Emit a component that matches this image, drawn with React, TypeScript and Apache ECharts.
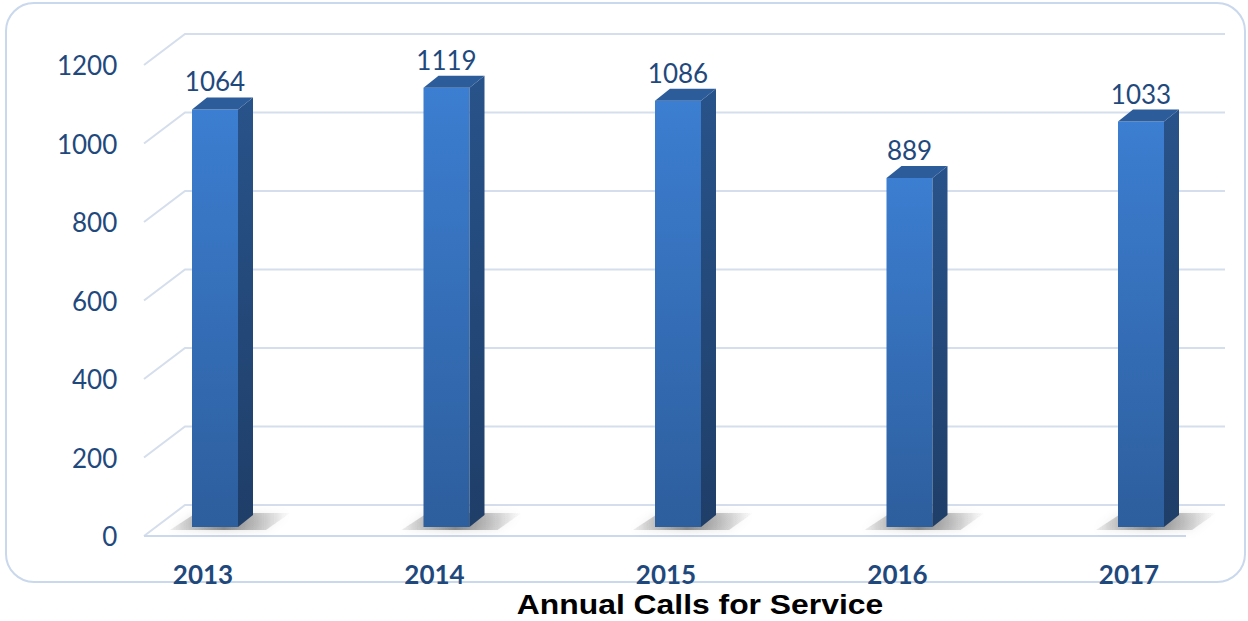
import React, { useEffect, useRef } from "react";
import * as echarts from "echarts";

const categories = ["2013", "2014", "2015", "2016", "2017"];
const calls = [1064, 1119, 1086, 889, 1033];
const yTicks = [0, 200, 400, 600, 800, 1000, 1200];
const chartTitle = "Annual Calls for Service";

const TEXT_BLUE = "#1F497D";
const GRID_COLOR = "#D5DEEC";

export default function App() {
  const ref = useRef<HTMLDivElement>(null);
  useEffect(() => {
    document.body.style.margin = "0";
    const chart = echarts.init(ref.current!, null, { renderer: "svg" });

    const barItem = (params: any, api: any) => {
      const k = api.value(0);
      const v = api.value(1);
      const base = api.coord([k, 0]);
      const top = api.coord([k, v]);
      const cx = base[0] + 12;
      const y0 = base[1] - 9;
      const y1 = top[1] - 9;
      const hw = 23;
      const dx = 15;
      const dy = 12;
      const xl = cx - hw;
      const xr = cx + hw;
      return {
        type: "group",
        children: [
          {
            type: "polygon",
            shape: {
              points: [
                [xl - 22, y0 + 3],
                [xr + 28, y0 + 3],
                [xr + 52, y0 - 14],
                [xl + 4, y0 - 14],
              ],
            },
            style: {
              fill: new echarts.graphic.LinearGradient(0, 0, 1, 0, [
                { offset: 0, color: "rgba(60,60,60,0.08)" },
                { offset: 0.45, color: "rgba(60,60,60,0.55)" },
                { offset: 1, color: "rgba(60,60,60,0.0)" },
              ]),
              shadowBlur: 10,
              shadowColor: "rgba(0,0,0,0.3)",
            },
          },
          {
            type: "rect",
            shape: { x: xl, y: y1, width: hw * 2, height: y0 - y1 },
            style: {
              fill: new echarts.graphic.LinearGradient(0, 0, 0, 1, [
                { offset: 0, color: "#3C7ED1" },
                { offset: 1, color: "#2D5E9D" },
              ]),
            },
          },
          {
            type: "polygon",
            shape: {
              points: [
                [xr, y1],
                [xr + dx, y1 - dy],
                [xr + dx, y0 - dy],
                [xr, y0],
              ],
            },
            style: {
              fill: new echarts.graphic.LinearGradient(0, 0, 0, 1, [
                { offset: 0, color: "#28538A" },
                { offset: 1, color: "#1F3E68" },
              ]),
            },
          },
          {
            type: "polygon",
            shape: {
              points: [
                [xl, y1],
                [xl + dx, y1 - dy],
                [xr + dx, y1 - dy],
                [xr, y1],
              ],
            },
            style: { fill: "#2C5C99" },
          },
          {
            type: "text",
            style: {
              text: String(v),
              x: cx,
              y: y1 - 28,
              align: "center",
              verticalAlign: "middle",
              fill: TEXT_BLUE,
              fontSize: 26,
              fontFamily: "Lato",
            },
          },
        ],
      };
    };

    const gridItem = (params: any, api: any) => {
      const t = api.value(1);
      const p0 = api.coord([0, t]);
      const p4 = api.coord([categories.length - 1, t]);
      const fx = p0[0] - 59;
      const y = p0[1];
      const bx = fx + 41;
      const by = y - 31;
      const rx = p4[0] + 96;
      const children: any[] = [
        {
          type: "polyline",
          shape: { points: [[fx, y], [bx, by], [rx, by]] },
          style: { stroke: GRID_COLOR, lineWidth: 2, fill: "none" },
        },
      ];
      if (t === 0) {
        children.push({
          type: "line",
          shape: { x1: fx, y1: y, x2: p4[0] + 57, y2: y },
          style: { stroke: "#CCD8EB", lineWidth: 2 },
        });
      }
      return { type: "group", children };
    };

    chart.setOption({
      animation: false,
      backgroundColor: "#ffffff",
      grid: { left: 87.25, right: 3.25, top: 65, bottom: 85 },
      xAxis: {
        type: "category",
        data: categories,
        axisLine: { show: false },
        axisTick: { show: false },
        axisLabel: {
          margin: 25,
          color: TEXT_BLUE,
          fontSize: 26,
          lineHeight: 25,
          fontWeight: "bold",
          fontFamily: "Lato",
        },
      },
      yAxis: {
        type: "value",
        min: 0,
        max: 1200,
        interval: 200,
        axisLine: { show: false },
        axisTick: { show: false },
        splitLine: { show: false },
        axisLabel: {
          margin: -30,
          color: TEXT_BLUE,
          fontSize: 26,
          fontFamily: "Lato",
          formatter: (v: number) => String(v),
        },
      },
      graphic: [
        {
          type: "rect",
          shape: { x: 6, y: 3, width: 1239, height: 579, r: 28 },
          style: { fill: "none", stroke: "#C9D8EC", lineWidth: 2 },
          silent: true,
          z: 0,
        },
        {
          type: "text",
          x: 700,
          y: 604,
          scaleX: 1.18,
          style: {
            text: chartTitle,
            align: "center",
            verticalAlign: "middle",
            fill: "#000000",
            fontSize: 27,
            fontWeight: "bold",
            fontFamily: "Liberation Sans, Arial",
          },
          silent: true,
        },
      ],
      series: [
        {
          type: "custom",
          renderItem: gridItem,
          data: yTicks.map((t) => [0, t]),
          silent: true,
          clip: false,
          z: 1,
        },
        {
          type: "custom",
          renderItem: barItem,
          data: calls.map((v, i) => [i, v]),
          silent: true,
          clip: false,
          z: 2,
        },
      ],
    });
    return () => chart.dispose();
  }, []);
  return <div ref={ref} style={{ width: 1248, height: 621 }} />;
}
